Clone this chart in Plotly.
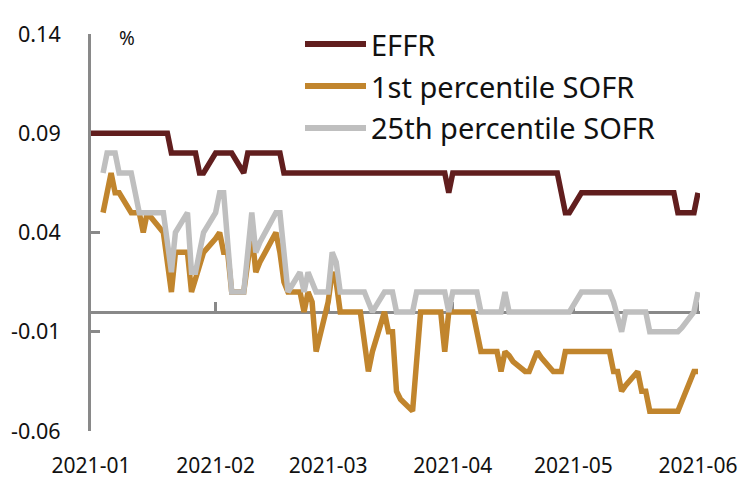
import plotly.graph_objects as go

# ---------------- data ----------------
dates = [
    "2020-12-31",
    "2021-01-04", "2021-01-05", "2021-01-06", "2021-01-07", "2021-01-08",
    "2021-01-11", "2021-01-12", "2021-01-13", "2021-01-14", "2021-01-15",
    "2021-01-19", "2021-01-20", "2021-01-21", "2021-01-22",
    "2021-01-25", "2021-01-26", "2021-01-27", "2021-01-28", "2021-01-29",
    "2021-02-01", "2021-02-02", "2021-02-03", "2021-02-04", "2021-02-05",
    "2021-02-08", "2021-02-09", "2021-02-10", "2021-02-11", "2021-02-12",
    "2021-02-16", "2021-02-17", "2021-02-18", "2021-02-19",
    "2021-02-22", "2021-02-23", "2021-02-24", "2021-02-25", "2021-02-26",
    "2021-03-01", "2021-03-02", "2021-03-03", "2021-03-04", "2021-03-05",
    "2021-03-08", "2021-03-09", "2021-03-10", "2021-03-11", "2021-03-12",
    "2021-03-15", "2021-03-16", "2021-03-17", "2021-03-18", "2021-03-19",
    "2021-03-22", "2021-03-23", "2021-03-24", "2021-03-25", "2021-03-26",
    "2021-03-29", "2021-03-30", "2021-03-31", "2021-04-01", "2021-04-02",
    "2021-04-05", "2021-04-06", "2021-04-07", "2021-04-08", "2021-04-09",
    "2021-04-12", "2021-04-13", "2021-04-14", "2021-04-15", "2021-04-16",
    "2021-04-19", "2021-04-20", "2021-04-21", "2021-04-22", "2021-04-23",
    "2021-04-26", "2021-04-27", "2021-04-28", "2021-04-29", "2021-04-30",
    "2021-05-03", "2021-05-04", "2021-05-05", "2021-05-06", "2021-05-07",
    "2021-05-10", "2021-05-11", "2021-05-12", "2021-05-13", "2021-05-14",
    "2021-05-17", "2021-05-18", "2021-05-19", "2021-05-20", "2021-05-21",
    "2021-05-24", "2021-05-25", "2021-05-26", "2021-05-27", "2021-05-28",
    "2021-05-31", "2021-06-01",
]

effr = [
    0.09,
    0.09, 0.09, 0.09, 0.09, 0.09,
    0.09, 0.09, 0.09, 0.09, 0.09,
    0.09, 0.09, 0.08, 0.08,
    0.08, 0.08, 0.08, 0.07, 0.07,
    0.08, 0.08, 0.08, 0.08, 0.08,
    0.07, 0.08, 0.08, 0.08, 0.08,
    0.08, 0.08, 0.07, 0.07,
    0.07, 0.07, 0.07, 0.07, 0.07,
    0.07, 0.07, 0.07, 0.07, 0.07,
    0.07, 0.07, 0.07, 0.07, 0.07,
    0.07, 0.07, 0.07, 0.07, 0.07,
    0.07, 0.07, 0.07, 0.07, 0.07,
    0.07, 0.07, 0.06, 0.07, 0.07,
    0.07, 0.07, 0.07, 0.07, 0.07,
    0.07, 0.07, 0.07, 0.07, 0.07,
    0.07, 0.07, 0.07, 0.07, 0.07,
    0.07, 0.07, 0.06, 0.05, 0.05,
    0.06, 0.06, 0.06, 0.06, 0.06,
    0.06, 0.06, 0.06, 0.06, 0.06,
    0.06, 0.06, 0.06, 0.06, 0.06,
    0.06, 0.06, 0.06, 0.05, 0.05,
    0.05, 0.06,
]

sofr_p1 = [
    None,
    0.05, 0.06, 0.07, 0.06, 0.06,
    0.05, 0.05, 0.05, 0.04, 0.05,
    0.04, 0.025, 0.01, 0.03,
    0.03, 0.01, 0.017, 0.023, 0.03,
    0.037, 0.04, 0.03, 0.03, 0.01,
    0.01, 0.025, 0.04, 0.02, 0.025,
    0.04, 0.03, 0.015, 0.01,
    0.01, 0.0, 0.01, 0.005, -0.02,
    0.005, 0.02, 0.015, 0.0, 0.0,
    0.0, 0.0, -0.015, -0.03, -0.02,
    0.0, -0.01, -0.01, -0.04, -0.044,
    -0.05, -0.02, 0.0, 0.0, 0.0,
    0.0, -0.02, 0.0, 0.0, 0.0,
    0.0, 0.0, -0.01, -0.02, -0.02,
    -0.02, -0.03, -0.02, -0.022, -0.025,
    -0.03, -0.03, -0.025, -0.02, -0.023,
    -0.03, -0.03, -0.03, -0.02, -0.02,
    -0.02, -0.02, -0.02, -0.02, -0.02,
    -0.02, -0.03, -0.03, -0.04, -0.037,
    -0.03, -0.04, -0.04, -0.05, -0.05,
    -0.05, -0.05, -0.05, -0.05, -0.045,
    -0.03, -0.03,
]

sofr_p25 = [
    None,
    0.07, 0.08, 0.08, 0.08, 0.07,
    0.07, 0.06, 0.05, 0.05, 0.05,
    0.05, 0.035, 0.02, 0.04,
    0.05, 0.02, 0.02, 0.03, 0.04,
    0.05, 0.06, 0.06, 0.03, 0.01,
    0.01, 0.03, 0.05, 0.03, 0.035,
    0.05, 0.05, 0.03, 0.01,
    0.02, 0.01, 0.02, 0.015, 0.01,
    0.01, 0.03, 0.025, 0.01, 0.01,
    0.01, 0.01, 0.01, 0.005, 0.0,
    0.01, 0.01, 0.01, 0.0, 0.0,
    0.0, 0.01, 0.01, 0.01, 0.01,
    0.01, 0.01, 0.0, 0.01, 0.01,
    0.01, 0.01, 0.01, 0.0, 0.0,
    0.0, 0.0, 0.01, 0.0, 0.0,
    0.0, 0.0, 0.0, 0.0, 0.0,
    0.0, 0.0, 0.0, 0.0, 0.0,
    0.01, 0.01, 0.01, 0.01, 0.01,
    0.01, 0.005, -0.002, -0.01, 0.0,
    0.0, 0.0, 0.0, -0.01, -0.01,
    -0.01, -0.01, -0.01, -0.01, -0.008,
    0.0, 0.01,
]

series_names = ["EFFR", "1st percentile SOFR", "25th percentile SOFR"]
series_colors = ["#611E1E", "#C1852D", "#BFBFBF"]

y_tickvals = [-0.06, -0.01, 0.04, 0.09, 0.14]
y_ticktext = ["-0.06", "-0.01", "0.04", "0.09", "0.14"]
x_tickvals = ["2021-01-01", "2021-02-01", "2021-03-01", "2021-04-01", "2021-05-01", "2021-06-01"]
x_ticktext = ["2021-01", "2021-02", "2021-03", "2021-04", "2021-05", "2021-06"]
unit_label = "%"

# ---------------- layout geometry (page pixels) ----------------
OFF = 8                      # page offset of the figure div (body margin)
W, H = 756 - OFF, 496 - OFF  # figure size
PL, PR, PT, PB = 91, 700, 34, 431   # plot area in page pixels
Y_MIN, Y_MAX = -0.06, 0.14

def fx(px):
    return (px - PL) / (PR - PL)

def fy(py):
    return (PB - py) / (PB - PT)

FONT = "Noto Sans"
AXIS_COLOR = "#898989"
TEXT_COLOR = "#111111"

fig = go.Figure()
for name, vals, color in zip(series_names, [effr, sofr_p1, sofr_p25], series_colors):
    fig.add_trace(go.Scatter(
        x=dates, y=vals, mode="lines", name=name,
        line=dict(color=color, width=5.5),
        connectgaps=False, showlegend=False,
    ))

# custom legend (long line swatches like the reference)
legend_rows_y = [44, 86, 128]
shapes = []
annotations = []
for name, color, py in zip(series_names, series_colors, legend_rows_y):
    shapes.append(dict(type="line", xref="paper", yref="paper",
                       x0=fx(305), x1=fx(366), y0=fy(py), y1=fy(py),
                       line=dict(color=color, width=6)))
    annotations.append(dict(xref="paper", yref="paper", x=fx(369), y=fy(py),
                            text=name, showarrow=False, xanchor="left", yanchor="middle",
                            font=dict(family=FONT, size=29, color=TEXT_COLOR)))

annotations.append(dict(xref="paper", yref="paper", x=fx(127), y=fy(38),
                        text=unit_label, showarrow=False, xanchor="center", yanchor="middle",
                        font=dict(family=FONT, size=19, color=TEXT_COLOR)))

zero_pos = (0 - Y_MIN) / (Y_MAX - Y_MIN)

fig.update_layout(
    width=W, height=H,
    margin=dict(l=PL - OFF, r=W - (PR - OFF), t=PT - OFF, b=H - (PB - OFF), pad=0, autoexpand=False),
    paper_bgcolor="white", plot_bgcolor="white",
    font=dict(family=FONT, size=21, color=TEXT_COLOR),
    shapes=shapes, annotations=annotations,
    showlegend=False,
    xaxis=dict(
        type="date",
        range=["2021-01-01", "2021-06-01 12:00"],
        tickmode="array", tickvals=x_tickvals, ticktext=x_ticktext,
        anchor="free", position=zero_pos,
        showline=True, linecolor=AXIS_COLOR, linewidth=3,
        ticks="inside", ticklen=9, tickwidth=2.5, tickcolor=AXIS_COLOR,
        ticklabelstandoff=134,
        showgrid=False, zeroline=False, layer="below traces",
        automargin=False,
        tickfont=dict(family=FONT, size=21, color=TEXT_COLOR),
    ),
    yaxis=dict(
        range=[Y_MIN, Y_MAX],
        tickmode="array", tickvals=y_tickvals, ticktext=y_ticktext,
        showline=True, linecolor=AXIS_COLOR, linewidth=3,
        ticks="inside", ticklen=9, tickwidth=2.5, tickcolor=AXIS_COLOR,
        ticklabelstandoff=23,
        showgrid=False, zeroline=False, layer="below traces",
        automargin=False,
        tickfont=dict(family=FONT, size=21.5, color=TEXT_COLOR),
    ),
)

fig.write_html("out.html")
